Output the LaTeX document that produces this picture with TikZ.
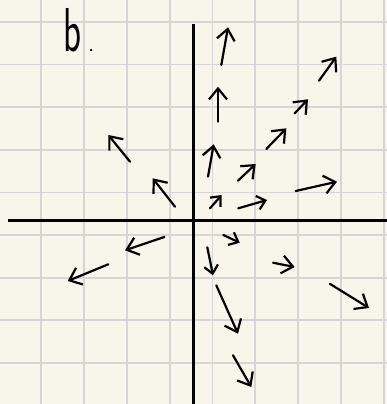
\documentclass[tikz,border=0pt]{standalone}
\usepackage{tikz}
\usetikzlibrary{arrows.meta}
\definecolor{paper}{RGB}{248,246,234}
\colorlet{gridlines}{gray!33}

\begin{document}
\begin{tikzpicture}[x=1pt,y=-1pt,
    vec/.style={line width=2.2pt, line cap=round,
        -{Straight Barb[length=11pt,width=18pt,line width=2.2pt]}},
    axis/.style={line width=2.4pt}]
        \coordinate (TL) at (0,0);
        \coordinate (BR) at (387,404);
        \fill[paper] (TL) rectangle (BR);
        \useasboundingbox (TL) rectangle (BR);
        % grid
        \foreach \k in {0,...,8}
        {
            \draw[gridlines, line width=1.8pt] ({41.3+42.8*\k},0) -- ({41.3+42.8*\k},404);
            \draw[gridlines, line width=1.8pt] (0,{22+42.6*\k}) -- (387,{22+42.6*\k});
        }
        % axes
        \coordinate (xl) at (8,220.5);
        \coordinate (xr) at (387,220.5);
        \coordinate (yt) at (193.5,24);
        \coordinate (yb) at (193.5,404);
        \draw[axis] (xl) -- (xr);
        \draw[axis] (yt) -- (yb);
        % ~~~~~~~~~~~~~~~~~
        \foreach \tx/\ty/\hx/\hy in {
            130/161.7/108.3/135, 175/206.7/152.7/178.3,
            221.3/65/228/27.3, 218/121.7/218/86.7,
            208/176.7/213.7/144.3, 238/180.7/255.7/164,
            266.3/149/286.3/128.3, 294.7/113.3/308/99.3,
            319/80.7/336.3/56.7, 295.7/191/337/181.7,
            164.3/237/125/250.3, 108.3/264.3/67.7/281,
            273/262.7/294.7/267, 329.7/283.7/369/308,
            216.3/285.3/238/333.7, 233/355.3/251.3/387}
        {
            \draw[vec] (\tx,\ty) -- (\hx,\hy);
        }
        % small ones near the origin
        \foreach \tx/\ty/\hx/\hy in {
            210/208.3/221.7/195, 238.3/208.3/267/200,
            223.3/235/239.7/242.7, 207.3/247.3/213/275.3}
        {
            \draw[vec, -{Straight Barb[length=8pt,width=14pt,line width=2.2pt]}] (\tx,\ty) -- (\hx,\hy);
        }
        \node[anchor=base west, inner sep=0pt, font=\sffamily] (lbl) at (63,52)
            {\scalebox{0.6}[1]{\fontsize{62}{62}\selectfont b}\hspace{7pt}{\fontsize{24}{24}\selectfont .}};
    \end{tikzpicture}
\end{document}
